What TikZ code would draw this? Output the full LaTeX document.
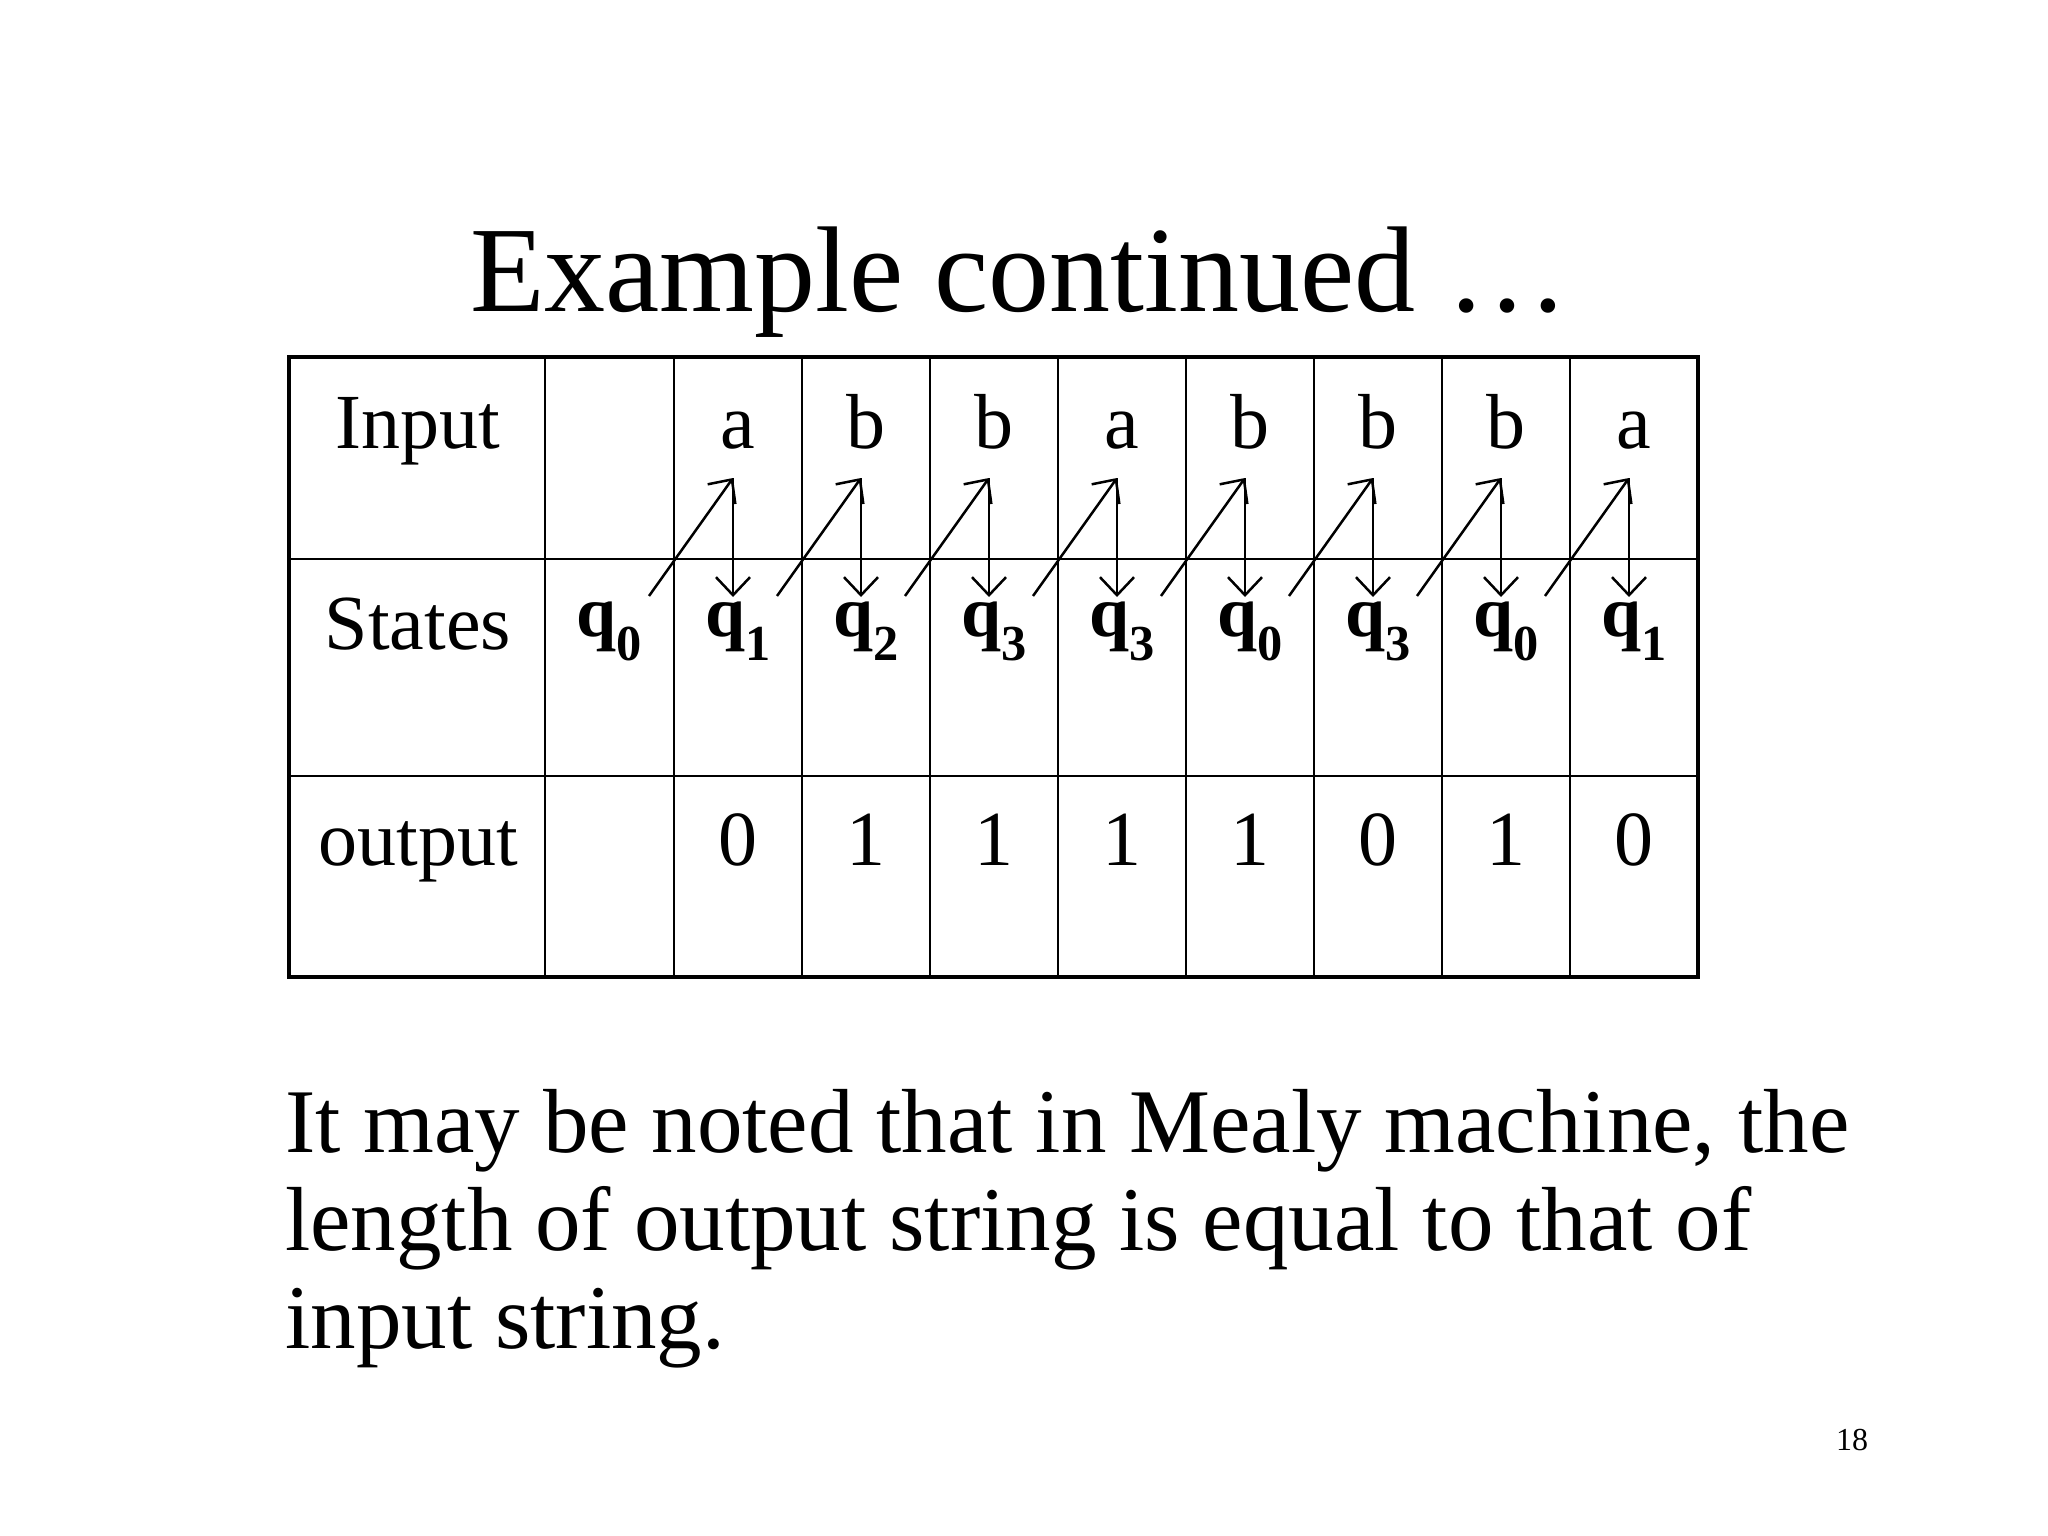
\documentclass[tikz,border=0pt]{standalone}
\usepackage{fontspec}
\setmainfont{Liberation Serif}
\usetikzlibrary{arrows.meta}
\begin{document}
\begin{tikzpicture}[x=1pt,y=-1pt,
  txt/.style={inner sep=0pt,anchor=base},
  big/.style={font=\fontsize{78}{98}\selectfont},
  para/.style={inner sep=0pt,anchor=base west,font=\fontsize{91}{98}\selectfont},
  qst/.style={inner sep=0pt,anchor=base,font=\fontsize{72}{80}\bfseries},
  arr/.style={line width=2.5pt,-{Straight Barb[length=18pt,width=34pt,line width=2.5pt]}}]
\useasboundingbox (0,0) rectangle (2048,1536);
\node[txt,font=\fontsize{122}{130}\selectfont] (title) at (1019,311) {Example continued \ldots};
% grid
\foreach \x in {545,674,802,930,1058,1186,1314,1442,1570} \draw[line width=2.5pt] (\x,357) -- (\x,977);
\foreach \y in {559,776} \draw[line width=2.5pt] (289,\y) -- (1698,\y);
\draw[line width=4.5pt] (289,357) rectangle (1698,977);
\node[txt,big] (lin) at (418,448) {Input};
\node[txt,big] (lst) at (418,649) {States};
\node[txt,big] (lout) at (418,865) {output};
\foreach \c/\s/\o [count=\i] in {a/1/0,b/2/1,b/3/1,a/3/1,b/0/1,b/3/0,b/0/1,a/1/0}{
  \pgfmathsetmacro{\cx}{674+128*(\i-1)+64}
  \node[txt,big] (in\i) at (\cx,448) {\c};
  \node[txt,big] (out\i) at (\cx,865) {\o};
  \node[qst] (q\i) at (\cx,636) {q$_{\mathbf{\s}}$};
  \coordinate (top\i) at (\cx-5,478);
  \coordinate (bot\i) at (\cx-5,597);
  \coordinate (st\i) at (\cx-128+39,596);
  \draw[arr] (st\i) -- (top\i);
  \draw[arr] (top\i) -- (bot\i);
}
\node[qst] (q0) at (609,636) {q$_{\mathbf{0}}$};
\node[para] (p1) at (285,1152) {It may be noted that in Mealy machine, the};
\node[para] (p2) at (285,1250) {length of output string is equal to that of};
\node[para] (p3) at (285,1348) {input string.};
\node[txt,font=\fontsize{32}{36}\selectfont] (pg) at (1852,1450) {18};
\end{tikzpicture}
\end{document}
